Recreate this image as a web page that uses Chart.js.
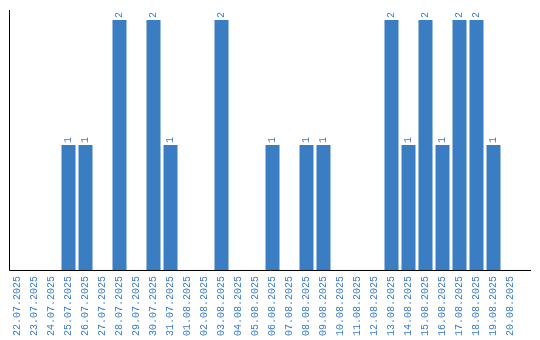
<!DOCTYPE html>
<html>
<head>
<meta charset="utf-8">
<script src="https://cdn.jsdelivr.net/npm/chart.js@4/dist/chart.umd.min.js"></script>
<style>
  html, body { margin: 0; padding: 0; background: #fff; }
  #wrap { width: 540px; height: 340px; }
</style>
</head>
<body>
<div id="wrap"><canvas id="myChart"></canvas></div>
<script>
// dates on the x axis
const days = [
    "22.07.2025", "23.07.2025", "24.07.2025", "25.07.2025", "26.07.2025",
    "27.07.2025", "28.07.2025", "29.07.2025", "30.07.2025", "31.07.2025",
    "01.08.2025", "02.08.2025", "03.08.2025", "04.08.2025", "05.08.2025",
    "06.08.2025", "07.08.2025", "08.08.2025", "09.08.2025", "10.08.2025",
    "11.08.2025", "12.08.2025", "13.08.2025", "14.08.2025", "15.08.2025",
    "16.08.2025", "17.08.2025", "18.08.2025", "19.08.2025", "20.08.2025"
];
// count per day
const counts = [
    0, 0, 0, 1, 1,
    0, 2, 0, 2, 1,
    0, 0, 2, 0, 0,
    1, 0, 1, 1, 0,
    0, 0, 2, 1, 2,
    1, 2, 2, 1, 0
];

const blue = "rgb(58, 125, 194)";
const monoFont = { family: "'Liberation Mono', monospace", size: 10 };

// axis lines + rotated value labels over the bars
const extras = {
    id: "extras",
    afterDatasetsDraw(chart) {
        const ctx = chart.ctx;
        const area = chart.chartArea;
        ctx.save();
        ctx.strokeStyle = "#000";
        ctx.lineWidth = 1;
        ctx.beginPath();
        ctx.moveTo(area.left + 0.5, area.top);
        ctx.lineTo(area.left + 0.5, area.bottom + 0.5);
        ctx.lineTo(area.right + 12, area.bottom + 0.5);
        ctx.stroke();

        ctx.fillStyle = blue;
        ctx.font = "10px 'Liberation Mono', monospace";
        ctx.textAlign = "left";
        ctx.textBaseline = "middle";
        chart.getDatasetMeta(0).data.forEach((bar, i) => {
            const v = counts[i];
            if (!v) return;
            ctx.save();
            ctx.translate(bar.x, bar.y - 2);
            ctx.rotate(-Math.PI / 2);
            ctx.fillText(String(v), 0, 0);
            ctx.restore();
        });
        ctx.restore();
    }
};

document.addEventListener('DOMContentLoaded', () => {
    const ctx = document.getElementById('myChart').getContext('2d');
    new Chart(ctx, {
        type: "bar",
        data: {
            labels: days,
            datasets: [{
                data: counts,
                backgroundColor: blue,
                barPercentage: 14 / 17,
                categoryPercentage: 1
            }]
        },
        options: {
            responsive: true,
            maintainAspectRatio: false,
            animation: false,
            layout: { padding: { left: 9, right: 21, top: 10, bottom: -2 } },
            plugins: {
                legend: { display: false },
                tooltip: { enabled: false }
            },
            scales: {
                x: {
                    grid: { display: false, drawTicks: false },
                    border: { display: false },
                    ticks: {
                        autoSkip: false,
                        minRotation: 90,
                        maxRotation: 90,
                        padding: 6,
                        color: blue,
                        font: monoFont
                    }
                },
                y: {
                    display: false,
                    min: 0,
                    max: Math.max(...counts) * 1.04
                }
            }
        },
        plugins: [extras]
    });
});
</script>
</body>
</html>
